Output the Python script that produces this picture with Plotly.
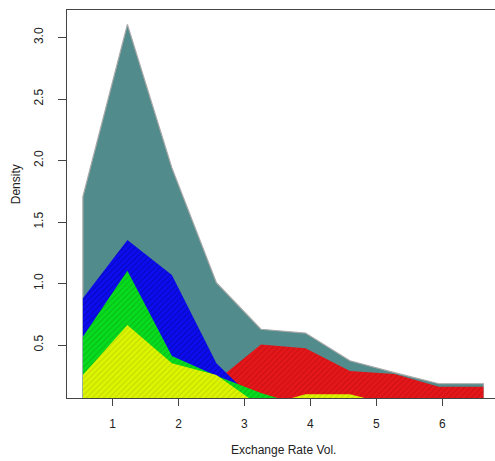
import plotly.graph_objects as go

# Bin midpoints of the exchange-rate volatility grid
vol_mid = [0.55, 1.225, 1.9, 2.575, 3.25, 3.925, 4.6, 5.275, 5.95, 6.625]

# Density layers, drawn back to front
dens_total = [1.706, 3.107, 1.94, 1.007, 0.628, 0.597, 0.372, 0.275, 0.185, 0.185]
dens_red = [0.0, 0.0, 0.0, 0.21, 0.505, 0.473, 0.289, 0.265, 0.16, 0.16]
dens_blue = [0.88, 1.354, 1.069, 0.351, 0.0, 0.0, 0.0, 0.0, 0.0, 0.0]
dens_green = [0.568, 1.104, 0.41, 0.25, 0.11, 0.0, 0.0, 0.0, 0.0, 0.0]
dens_yellow = [0.256, 0.663, 0.351, 0.256, 0.0, 0.099, 0.099, 0.01, 0.0, 0.0]

x_ticks = [1, 2, 3, 4, 5, 6]
y_ticks = [0.5, 1.0, 1.5, 2.0, 2.5, 3.0]

layers = [
    (dens_total, "#528B8B", None, "#A8A8A8"),
    (dens_red, "#E5171A", "#C80F12", None),
    (dens_blue, "#0C0CF0", "#0606B8", None),
    (dens_green, "#08DC1E", "#05B818", None),
    (dens_yellow, "#DCF500", "#C2D800", None),
]

fig = go.Figure()
for vals, col, hatch, edge in layers:
    # close each polygon down to the zero baseline
    px = [vol_mid[0]] + vol_mid + [vol_mid[-1]]
    py = [0.0] + vals + [0.0]
    kw = {}
    if hatch:
        kw["fillpattern"] = dict(shape="/", bgcolor=col, fgcolor=hatch,
                                 size=4, solidity=0.25, fillmode="replace")
    fig.add_trace(go.Scatter(
        x=px, y=py, mode="lines", fill="toself", fillcolor=col,
        line=dict(color=edge if edge else col, width=1.2 if edge else 0),
        hoverinfo="skip", showlegend=False, **kw))

axis_col = "#444444"
fig.update_layout(
    width=495, height=461,
    margin=dict(l=67, r=0, t=10, b=63),
    paper_bgcolor="white", plot_bgcolor="white",
    font=dict(family="Liberation Sans, Arial, sans-serif", size=12, color="#222222"),
    xaxis=dict(range=[0.309, 6.80], tickvals=x_ticks, ticktext=[str(v) for v in x_ticks],
               showgrid=False, zeroline=False, showline=True, linecolor=axis_col,
               linewidth=1, mirror=True, ticks="outside", ticklen=7, tickcolor=axis_col,
               ticklabelstandoff=8),
    yaxis=dict(range=[0.069, 3.224], tickvals=y_ticks, ticktext=[f"{v:.1f}" for v in y_ticks],
               showgrid=False, zeroline=False, showline=True, linecolor=axis_col,
               linewidth=1, ticks="outside", ticklen=8, tickcolor=axis_col,
               tickangle=-90, ticklabelstandoff=10),
    annotations=[
        dict(text="Exchange Rate Vol.", xref="paper", yref="paper", x=0.505, y=-0.135,
             xanchor="center", yanchor="middle", showarrow=False, font=dict(size=12)),
        dict(text="Density", xref="paper", yref="paper", x=-0.12, y=0.55,
             xanchor="center", yanchor="middle", textangle=-90, showarrow=False,
             font=dict(size=12)),
    ],
)

fig.write_html("out.html")
